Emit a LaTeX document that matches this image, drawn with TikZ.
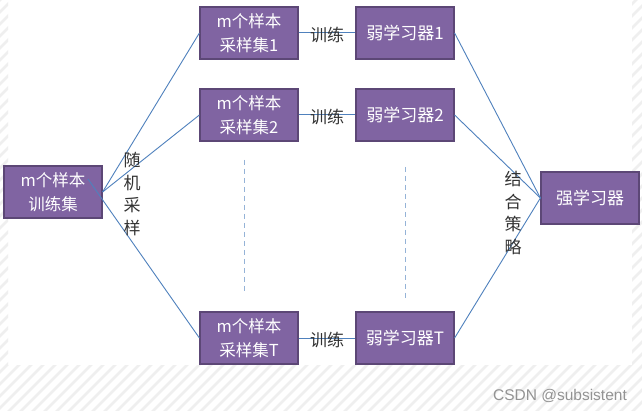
\documentclass[tikz,border=0pt]{standalone}
\usepackage{fontspec}
\setmainfont{Noto Sans CJK SC}
\newfontfamily\wmfont{Liberation Sans}
\definecolor{boxfill}{HTML}{8064A2}
\definecolor{boxline}{HTML}{5C4776}
\definecolor{connc}{HTML}{4F81BD}
\definecolor{dashc}{HTML}{95B3D7}
\definecolor{hatchc}{HTML}{EFEFEF}
\definecolor{labc}{HTML}{333333}
\begin{document}
\begin{tikzpicture}[x=1pt,y=-1pt,
  box/.style={draw=boxline, line width=1.2pt, fill=boxfill, text=white,
    minimum width=98pt, minimum height=52pt, inner sep=0pt, align=center,
    font=\fontsize{16.5}{24}\selectfont},
  wbox/.style={box, font=\fontsize{17}{24}\selectfont},
  connline/.style={draw=connc, line width=0.9pt},
  trainline/.style={draw=connc, line width=1pt},
  dashline/.style={draw=dashc, line width=1pt, dashed, dash pattern=on 5pt off 4pt},
  lab/.style={text=labc, inner sep=0pt, font=\fontsize{17}{22.5}\selectfont, align=center},
  wm/.style={text=gray!85, inner sep=0pt, font=\wmfont\fontsize{15.5}{17}\selectfont}]
\useasboundingbox (0,0) rectangle (642,411);
\fill[white] (0,0) rectangle (642,411);
% hatched background margins
\begin{scope}
  \clip (0,365) rectangle (642,411) (0,0) rectangle (8,365) (632,0) rectangle (642,365);
  \foreach \c in {0,12,...,1080} {
    \draw[hatchc, line width=2.5pt] (\c-420,420) -- (\c+10,-10);
  }
\end{scope}
% nodes
\node[box] (train) at (53,192) {m个样本\\训练集};
\node[box] (s1) at (249,33) {m个样本\\采样集1};
\node[box] (s2) at (249,115) {m个样本\\采样集2};
\node[box] (sT) at (249,338) {m个样本\\采样集T};
\node[wbox] (w1) at (405,33) {弱学习器1};
\node[wbox] (w2) at (405,115) {弱学习器2};
\node[wbox] (wT) at (405,338) {弱学习器T};
\node[wbox] (strong) at (590,198) {强学习器};
\coordinate (t0) at (88,179);
% connectors
\draw[connline] (train.east) -- (s1.west);
\draw[connline] (train.east) -- (s2.west);
\draw[connline] (t0) -- (sT.west);
\draw[trainline] (s1.east) -- (w1.west);
\draw[trainline] (s2.east) -- (w2.west);
\draw[trainline] (sT.east) -- (wT.west);
\draw[connline] (w1.east) -- (strong.west);
\draw[connline] (w2.east) -- (strong.west);
\draw[connline] (wT.east) -- (strong.west);
% dashed ellipsis lines
\coordinate (d1a) at (244,160);
\coordinate (d1b) at (244,292);
\coordinate (d2a) at (405,167);
\coordinate (d2b) at (405,299);
\draw[dashline] (d1a) -- (d1b);
\draw[dashline] (d2a) -- (d2b);
% labels
\node[lab] (l1) at (327,35) {训练};
\node[lab] (l2) at (327,117) {训练};
\node[lab] (lT) at (327,340) {训练};
\node[lab] (rs) at (132,194) {随\\机\\采\\样};
\node[lab] (cs) at (513,213) {结\\合\\策\\略};
\node[wm] (mark) at (560,396) {CSDN @subsistent};
\end{tikzpicture}
\end{document}
